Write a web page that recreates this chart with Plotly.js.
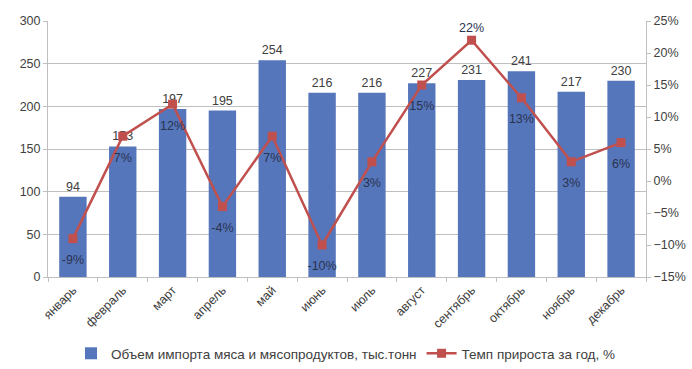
<!DOCTYPE html>
<html><head><meta charset="utf-8">
<script src="https://cdn.plot.ly/plotly-3.0.1.min.js"></script>
<style>html,body{margin:0;padding:0;background:#fff;}#chart{width:692px;height:369px;}</style>
</head><body><div id="chart"></div>
<script>
const months = ["январь","февраль","март","апрель","май","июнь","июль","август","сентябрь","октябрь","ноябрь","декабрь"];
const importVolume = [94,153,197,195,254,216,216,227,231,241,217,230];
const growthRate = [-9,7,12,-4,7,-10,3,15,22,13,3,6];
const barName = "Объем импорта мяса и мясопродуктов, тыс.тонн";
const lineName = "Темп прироста за год, %";

const font = {family: "Liberation Sans, Arial, sans-serif", size: 12, color: "#404040"};

// the peak label sits above its marker, the others below
const peakIndex = growthRate.indexOf(Math.max(...growthRate));

const bars = {
  type: "bar", x: months, y: importVolume, name: barName,
  marker: {color: "#5676BC"},
  text: importVolume.map(String), textposition: "outside",
  textfont: {size: 12.5, color: "#404040"}, cliponaxis: false,
  hoverinfo: "skip"
};
const line = {
  type: "scatter", mode: "lines+markers", x: months, y: growthRate, yaxis: "y2",
  name: lineName,
  line: {color: "#C0504D", width: 2.5},
  marker: {symbol: "square", size: 9, color: "#C0504D"},
  hoverinfo: "skip"
};
const lineLabels = {
  type: "scatter", mode: "markers+text", x: months, y: growthRate, yaxis: "y2",
  showlegend: false,
  marker: {size: growthRate.map((v, i) => i === peakIndex ? 6 : 24), color: "rgba(0,0,0,0)",
           line: {width: 0, color: "rgba(0,0,0,0)"}},
  text: growthRate.map(v => v + "%"),
  textposition: growthRate.map((v, i) => i === peakIndex ? "top center" : "bottom center"),
  textfont: {size: 12.5, color: "#2a3350"}, cliponaxis: false,
  hoverinfo: "skip"
};

const layout = {
  width: 692, height: 369,
  margin: {l: 48, r: 46, t: 21, b: 92, autoexpand: false},
  paper_bgcolor: "#fff", plot_bgcolor: "#fff",
  font: font,
  bargap: 0.45,
  showlegend: true,
  legend: {orientation: "h", xref: "container", yref: "container", x: 0.5, xanchor: "center",
           y: -0.015, yanchor: "bottom",
           font: {size: 13.5, color: "#404040"}, traceorder: "normal"},
  xaxis: {range: [-0.5, 11.5], tickangle: -45, tickfont: {size: 12.5, color: "#404040"}, showline: true,
          linecolor: "#bfbfbf", ticks: "outside", ticklen: 4, tickcolor: "#bfbfbf",
          tickson: "boundaries", showgrid: false, fixedrange: true, automargin: false},
  yaxis: {range: [0, 300], dtick: 50, showgrid: true, gridcolor: "#bfbfbf", gridwidth: 1,
          showline: true, linecolor: "#bfbfbf", ticks: "outside", ticklen: 4, tickcolor: "#bfbfbf",
          tickfont: {size: 12.5, color: "#404040"}, zeroline: false, automargin: false},
  yaxis2: {overlaying: "y", side: "right", range: [-15, 25], dtick: 5, ticksuffix: "%",
           showgrid: false, showline: true, linecolor: "#bfbfbf", ticks: "outside", ticklen: 4,
           tickcolor: "#bfbfbf", tickfont: {size: 12.5, color: "#404040"}, zeroline: false, automargin: false}
};
Plotly.newPlot("chart", [bars, line, lineLabels], layout, {displayModeBar: false, staticPlot: true});
</script></body></html>
